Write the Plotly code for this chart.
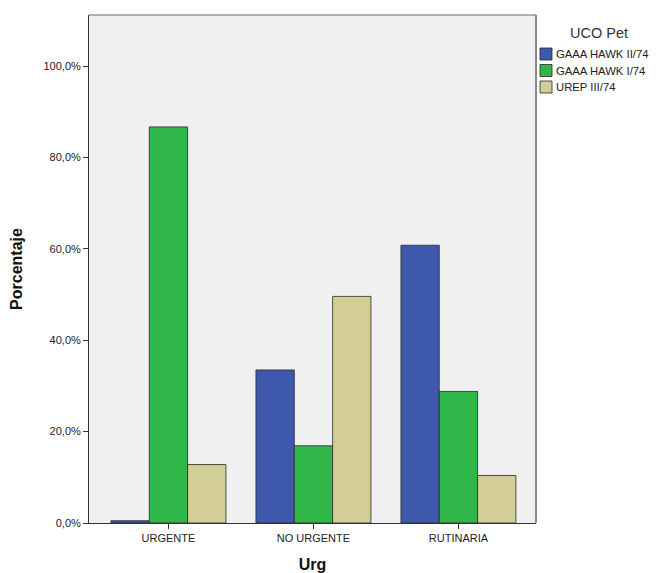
import plotly.graph_objects as go

categories = ["URGENTE", "NO URGENTE", "RUTINARIA"]
series_names = ["GAAA HAWK II/74", "GAAA HAWK I/74", "UREP III/74"]
hawk2 = [0.5, 33.5, 60.8]
hawk1 = [86.7, 16.9, 28.8]
urep3 = [12.8, 49.6, 10.4]
colors = ["#3e58ac", "#2fb849", "#d3ce97"]
tick_vals = [0, 20, 40, 60, 80, 100]
tick_text = ["0,0%", "20,0%", "40,0%", "60,0%", "80,0%", "100,0%"]
legend_title = "UCO Pet"

font = "Liberation Sans, Arial, sans-serif"
W, H = 650, 565          # page has an 8px body margin
ML, MR, MT, MB = 81, 122, 7, 50
PW, PH = W - ML - MR, H - MT - MB


def px(page_x):
    return (page_x - 8 - ML) / PW


def py(page_y):
    return 1 - (page_y - 8 - MT) / PH


fig = go.Figure()
for name, vals, col in zip(series_names, [hawk2, hawk1, urep3], colors):
    fig.add_trace(go.Bar(
        x=categories, y=vals, name=name, showlegend=False,
        marker=dict(color=col, line=dict(color="rgba(40,40,40,0.8)", width=1)),
    ))

fig.update_layout(
    width=W, height=H,
    barmode="group", bargap=0.207, bargroupgap=0,
    paper_bgcolor="white", plot_bgcolor="#f0f0f0",
    margin=dict(l=ML, r=MR, t=MT, b=MB, autoexpand=False),
    font=dict(family=font, size=11, color="#222"),
    xaxis=dict(
        range=[-0.548, 2.535], showgrid=False, showline=True, linecolor="#333",
        linewidth=1, ticks="outside", ticklen=5, tickcolor="#333",
        tickfont=dict(size=11, color="#222"), automargin=False,
        title=dict(text="<b>Urg</b>", font=dict(size=16, color="#111"), standoff=20),
    ),
    yaxis=dict(
        range=[0, 111.2], tickvals=tick_vals, ticktext=tick_text,
        showgrid=False, showline=True, linecolor="#333", linewidth=1,
        ticks="outside", ticklen=5, tickcolor="#333", zeroline=False,
        tickfont=dict(size=11, color="#222"), automargin=False,
        title=dict(text="<b>Porcentaje</b>", font=dict(size=16, color="#111"), standoff=16),
    ),
)
# light frame on top/right of plot area
fig.add_shape(type="line", xref="paper", yref="paper", x0=0, x1=1, y0=1, y1=1,
              line=dict(color="#999", width=1.5))
fig.add_shape(type="line", xref="paper", yref="paper", x0=1, x1=1, y0=0, y1=1,
              line=dict(color="#888", width=2))

# legend (drawn manually to match spacing)
fig.add_annotation(xref="paper", yref="paper", x=px(599), y=py(33),
                   text=legend_title, showarrow=False, xanchor="center", yanchor="middle",
                   font=dict(size=14.5, color="#333", family=font))
row_y = [54, 70.5, 87]
for name, col, yc in zip(series_names, colors, row_y):
    fig.add_shape(type="rect", xref="paper", yref="paper",
                  x0=px(540), x1=px(552), y0=py(yc - 6), y1=py(yc + 6),
                  fillcolor=col, line=dict(color="rgba(40,40,40,0.8)", width=1))
    fig.add_annotation(xref="paper", yref="paper", x=px(554), y=py(yc),
                       text=name, showarrow=False, xanchor="left", yanchor="middle",
                       font=dict(size=11.3, color="#222", family=font))
fig.write_html("out.html")
